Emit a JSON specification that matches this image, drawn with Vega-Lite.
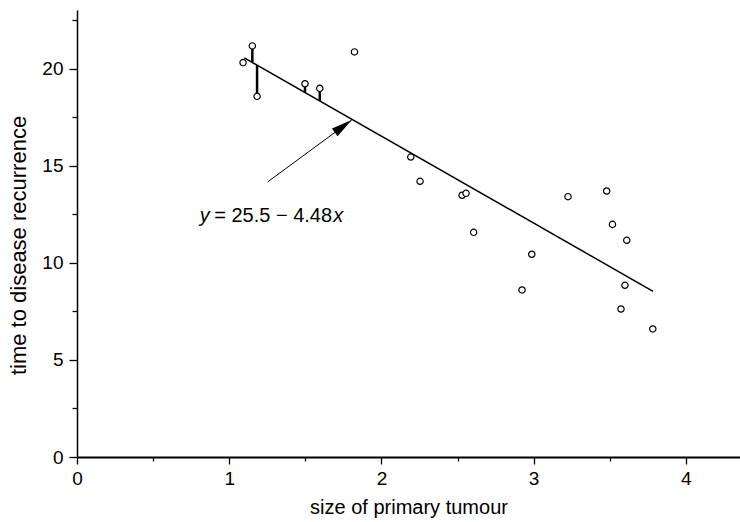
{
  "$schema": "https://vega.github.io/schema/vega-lite/v6.json",
  "width": 663,
  "height": 447,
  "autosize": {"type": "none"},
  "padding": {"left": 77, "top": 10, "right": 0, "bottom": 65},
  "background": "white",
  "config": {
    "view": {"stroke": null},
    "font": "Liberation Sans",
    "axis": {
      "grid": false,
      "domainColor": "black",
      "tickColor": "black",
      "labelColor": "black",
      "titleColor": "black",
      "labelFontSize": 19,
      "titleFontSize": 20,
      "titleFontWeight": "normal",
      "labelFont": "Liberation Sans",
      "titleFont": "Liberation Sans"
    }
  },
  "datasets": {
    "points": [
      {"size": 1.091, "time": 20.33},
      {"size": 1.152, "time": 21.19},
      {"size": 1.183, "time": 18.59},
      {"size": 1.498, "time": 19.24},
      {"size": 1.595, "time": 19.0},
      {"size": 1.823, "time": 20.88},
      {"size": 2.193, "time": 15.46},
      {"size": 2.254, "time": 14.21},
      {"size": 2.53, "time": 13.49},
      {"size": 2.556, "time": 13.59},
      {"size": 2.606, "time": 11.58},
      {"size": 2.924, "time": 8.61},
      {"size": 2.988, "time": 10.45},
      {"size": 3.226, "time": 13.42},
      {"size": 3.48, "time": 13.71},
      {"size": 3.518, "time": 11.99},
      {"size": 3.574, "time": 7.63},
      {"size": 3.6, "time": 8.85},
      {"size": 3.612, "time": 11.17},
      {"size": 3.783, "time": 6.6}
    ],
    "residuals": [
      {"size": 1.152, "time": 21.19, "fit": 20.34},
      {"size": 1.183, "time": 18.59, "fit": 20.2},
      {"size": 1.498, "time": 19.24, "fit": 18.79},
      {"size": 1.595, "time": 19.0, "fit": 18.35}
    ],
    "fitline": [
      {"size": 1.1, "time": 20.57},
      {"size": 3.785, "time": 8.54}
    ],
    "arrow": [
      {"size": 1.253, "time": 14.18, "order": 1},
      {"size": 1.805, "time": 17.37, "order": 2}
    ],
    "arrowtip": [
      {"size": 1.805, "time": 17.37}
    ],
    "label": [
      {"size": 0.806, "time": 12.13}
    ]
  },
  "encoding": {
    "x": {
      "field": "size", "type": "quantitative",
      "scale": {"domain": [0, 4.356], "nice": false, "zero": false},
      "axis": {
        "title": "size of primary tumour",
        "values": [0, 0.5, 1, 1.5, 2, 2.5, 3, 3.5, 4],
        "labelExpr": "datum.value % 1 === 0 ? format(datum.value, 'd') : ''",
        "tickSize": {"condition": {"test": "datum.value % 1 === 0", "value": 7}, "value": 4},
        "domainWidth": 2,
        "tickWidth": 1.3,
        "labelPadding": 5,
        "titleBaseline": "alphabetic",
        "titleY": 56,
        "labelFlush": false
      }
    },
    "y": {
      "field": "time", "type": "quantitative",
      "scale": {"domain": [0, 23.04], "nice": false, "zero": false},
      "axis": {
        "title": "time to disease recurrence",
        "values": [0, 2.5, 5, 7.5, 10, 12.5, 15, 17.5, 20, 22.5],
        "labelExpr": "datum.value % 5 === 0 ? format(datum.value, 'd') : ''",
        "tickSize": {"condition": {"test": "datum.value % 5 === 0", "value": 8}, "value": 5},
        "domainWidth": 1.5,
        "tickWidth": 1.3,
        "labelPadding": 6,
        "titleFontSize": 22,
        "titleAngle": 270,
        "titleAlign": "center",
        "titleBaseline": "alphabetic",
        "titleX": -52,
        "titleY": 235,
        "labelFlush": false
      }
    }
  },
  "layer": [
    {
      "data": {"name": "fitline"},
      "mark": {"type": "line", "color": "black", "strokeWidth": 1.5}
    },
    {
      "data": {"name": "residuals"},
      "mark": {"type": "rule", "color": "black", "strokeWidth": 2.5},
      "encoding": {"y2": {"field": "fit"}}
    },
    {
      "data": {"name": "arrow"},
      "mark": {"type": "line", "color": "black", "strokeWidth": 1},
      "encoding": {"order": {"field": "order"}}
    },
    {
      "data": {"name": "arrowtip"},
      "mark": {"type": "point", "shape": "M0,0L0.45,2L-0.45,2Z", "size": 441, "angle": 54, "filled": true, "color": "black", "opacity": 1, "strokeWidth": 0}
    },
    {
      "data": {"name": "points"},
      "mark": {"type": "point", "shape": "circle", "size": 40, "filled": false, "fill": "white", "fillOpacity": 1, "stroke": "black", "strokeWidth": 1.2, "opacity": 1}
    },
    {
      "data": {"name": "label"},
      "mark": {"type": "text", "text": "y", "fontStyle": "italic", "fontSize": 20, "align": "left", "baseline": "alphabetic", "color": "black", "font": "Liberation Sans"}
    },
    {
      "data": {"name": "label"},
      "mark": {"type": "text", "text": "= 25.5 − 4.48", "fontSize": 20, "align": "left", "baseline": "alphabetic", "dx": 14.5, "color": "black", "font": "Liberation Sans"}
    },
    {
      "data": {"name": "label"},
      "mark": {"type": "text", "text": "x", "fontStyle": "italic", "fontSize": 20, "align": "left", "baseline": "alphabetic", "dx": 133.5, "color": "black", "font": "Liberation Sans"}
    }
  ]
}
